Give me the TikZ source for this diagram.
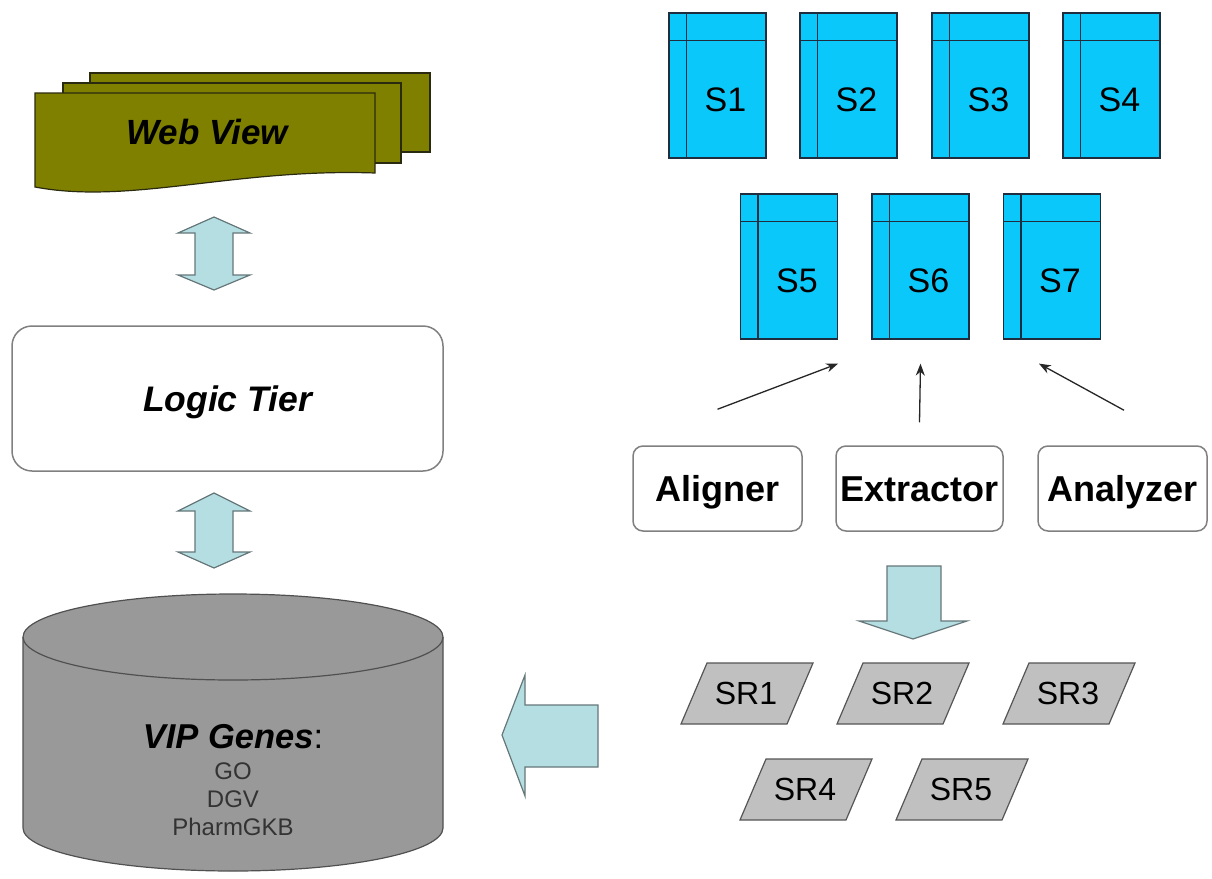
\documentclass[tikz,border=0pt]{standalone}
\usepackage{fontspec}
\setmainfont{Liberation Sans}
\usetikzlibrary{arrows.meta,calc}
\definecolor{webolive}{HTML}{808000}
\definecolor{weboliveline}{HTML}{2A2A10}
\definecolor{sblue}{RGB}{10,200,250}
\definecolor{sline}{HTML}{1E2E3E}
\definecolor{boxline}{HTML}{808080}
\definecolor{arrowfill}{RGB}{180,222,226}
\definecolor{arrowline}{HTML}{66777A}
\definecolor{srfill}{HTML}{C0C0C0}
\definecolor{srline}{HTML}{555555}
\definecolor{dbfill}{HTML}{999999}
\definecolor{dbline}{HTML}{505050}
\definecolor{dbtext}{HTML}{333333}
\begin{document}
\begin{tikzpicture}[x=1pt,y=-1pt,
  sbox/.style={draw=sline, fill=sblue, line width=1.2pt, minimum width=97pt, minimum height=145pt, inner sep=0pt},
  stext/.style={font=\fontsize{34}{40}\selectfont, inner sep=0pt},
  tool/.style={draw=boxline, fill=white, line width=1.5pt, rounded corners=10pt, minimum height=85pt, inner sep=0pt, text height=26pt, text depth=0pt, font=\bfseries\fontsize{36}{42}\selectfont},
  tier/.style={draw=boxline, fill=white, line width=1.5pt, rounded corners=20pt, minimum width=431pt, minimum height=145pt, inner sep=0pt, text height=25pt, text depth=0pt, font=\bfseries\itshape\fontsize{35.5}{42}\selectfont},
  srshape/.style={draw=srline, fill=srfill, line width=1.2pt, line join=miter},
  srtext/.style={font=\fontsize{32}{38}\selectfont, inner sep=0pt},
  blockarrow/.style={fill=arrowfill, draw=arrowline, line width=1.2pt, line join=miter},
  sheet/.style={fill=webolive, draw=weboliveline, line width=1.2pt, line join=miter},
  linkarrow/.style={draw=black!85, line width=1.3pt, -{Stealth[length=12pt,width=9pt]}}
]
\useasboundingbox (0,0) rectangle (1212,878);

% ---------- Web View ----------
\draw[sheet] (90,73) rectangle (430,152);
\draw[sheet] (63,83) rectangle (401,163);
\draw[sheet] (35,93) -- (375,93) -- (375,173) .. controls (235,168) and (130,205) .. (35,187) -- cycle;
\node[font=\bfseries\itshape\fontsize{35}{42}\selectfont, inner sep=0pt] (web) at (207,132) {Web View};

% ---------- double arrows ----------
\draw[blockarrow] (214,217) -- (250,233) -- (233,233) -- (233,275) -- (250,275) -- (214,290) -- (178,275) -- (195,275) -- (195,233) -- (178,233) -- cycle;
\draw[blockarrow] (214,493) -- (250,511) -- (233,511) -- (233,552) -- (250,552) -- (214,568) -- (178,552) -- (195,552) -- (195,511) -- (178,511) -- cycle;

% ---------- Logic Tier ----------
\node[tier] (logic) at (227.5,398.5) {Logic Tier};

% ---------- Database cylinder ----------
\filldraw[fill=dbfill, draw=dbline, line width=1.2pt]
  (23,637) -- (23,828) arc[start angle=180, end angle=360, x radius=210pt, y radius=43pt]
  -- (443,637) arc[start angle=0, end angle=180, x radius=210pt, y radius=43pt] -- cycle;
\draw[dbline, line width=1.2pt] (23,637) arc[start angle=180, end angle=360, x radius=210pt, y radius=43pt];
\node[inner sep=0pt, font=\fontsize{34.5}{40}\selectfont] (vip) at (233,737) {\textbf{\textit{VIP Genes}}:};
\node[inner sep=0pt, align=center, text=dbtext, font=\fontsize{24}{28}\selectfont, anchor=north] (srcs) at (233,763) {GO\\DGV\\PharmGKB};

% ---------- S boxes ----------
\foreach \n/\x/\y in {S1/717.5/85.5, S2/848.5/85.5, S3/980.5/85.5, S4/1111.5/85.5,
                      S5/789/266.5, S6/920.5/266.5, S7/1052/266.5} {
  \node[sbox] (\n) at (\x,\y) {};
  \draw[sline, line width=1.2pt] ([xshift=18pt]\n.north west) -- ([xshift=18pt]\n.south west);
  \draw[sline, line width=1.2pt] ([yshift=-28pt]\n.north west) -- ([yshift=-28pt]\n.north east);
  \node[stext] at ($(\n.center)+(8,14)$) {\n};
}

% ---------- tools ----------
\node[tool, minimum width=169pt] (al) at (717.5,488.5) {Aligner};
\node[tool, minimum width=167pt] (ex) at (919.5,488.5) {Extractor};
\node[tool, minimum width=169pt] (an) at (1122.5,488.5) {Analyzer};

\coordinate (alA) at ($(al.north)+(0,-36)$);
\coordinate (exA) at ($(ex.north)+(0,-23)$);
\coordinate (anA) at ($(an.north)+(1.5,-35)$);
\draw[linkarrow] (alA) -- ($(S5.south east)+(0,24)$);
\draw[linkarrow] (exA) -- ($(S6.south)+(0,24)$);
\draw[linkarrow] (anA) -- ($(S7.south west)+(36,24)$);

% ---------- down block arrow ----------
\draw[blockarrow] (887,566) -- (941,566) -- (941,621) -- (967,621) -- (913,639) -- (859,621) -- (887,621) -- cycle;

% ---------- SR parallelograms ----------
\foreach \n/\x/\y in {SR1/747/693.5, SR2/903/693.5, SR3/1069/693.5, SR4/806/789.5, SR5/962/789.5} {
  \draw[srshape] (\x-40,\y-30.5) -- (\x+66,\y-30.5) -- (\x+40,\y+30.5) -- (\x-66,\y+30.5) -- cycle;
  \node[srtext] (\n) at (\x-1,\y) {\n};
}

% ---------- left block arrow ----------
\draw[blockarrow] (502,735) -- (525,675) -- (525,705) -- (598,705) -- (598,767) -- (525,767) -- (525,796) -- cycle;
\end{tikzpicture}
\end{document}
